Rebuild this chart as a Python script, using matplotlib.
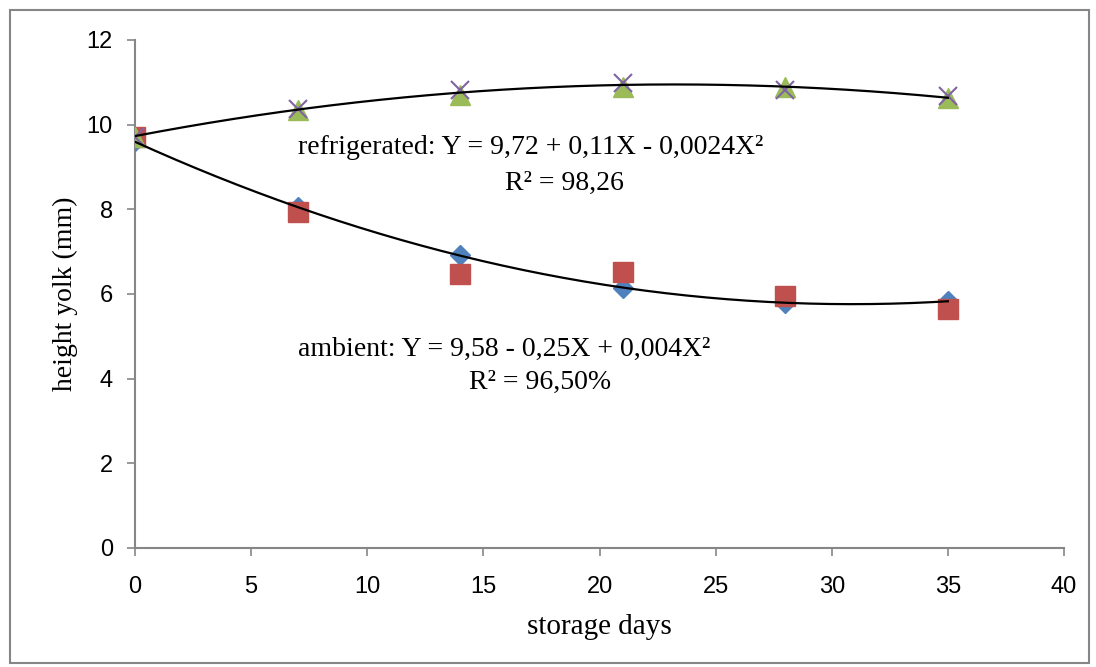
import numpy as np
import matplotlib
matplotlib.use("Agg")
import matplotlib.pyplot as plt
from matplotlib.patches import Rectangle

days = [0, 7, 14, 21, 28, 35]
ambient_a = [9.62, 8.06, 6.93, 6.15, 5.79, 5.84]      # blue diamonds
ambient_b = [9.72, 7.94, 6.48, 6.52, 5.96, 5.65]      # red squares
refrig_a = [9.72, 10.35, 10.71, 10.90, 10.90, 10.63]  # green triangles
refrig_b = [9.72, 10.38, 10.83, 10.99, 10.82, 10.68]  # purple crosses

eq_refrig = "refrigerated: Y = 9,72 + 0,11X - 0,0024X\u00b2"
r2_refrig = "R\u00b2 = 98,26"
eq_amb = "ambient: Y = 9,58 - 0,25X + 0,004X\u00b2"
r2_amb = "R\u00b2 = 96,50%"

xticks = [0, 5, 10, 15, 20, 25, 30, 35, 40]
yticks = [0, 2, 4, 6, 8, 10, 12]

tickfont = "Liberation Sans"
serif = "Liberation Serif"

fig = plt.figure(figsize=(10.96, 6.67), dpi=100)
fig.patches.append(Rectangle((10/1096, 4/667), 1079/1096, 653/667, transform=fig.transFigure,
                             fill=False, edgecolor="#868686", linewidth=1.5))
ax = fig.add_axes([135/1096, 119/667, 929/1096, 508/667])

ax.plot(days, ambient_a, linestyle="none", marker="D", markersize=10, color="#4F81BD", zorder=3)
ax.plot(days, ambient_b, linestyle="none", marker="s", markersize=14, color="#C0504D", zorder=4)
ax.plot(days, refrig_a, linestyle="none", marker="^", markersize=14, color="#9BBB59", zorder=5)
ax.plot(days, refrig_b, linestyle="none", marker="x", markersize=13, mew=1.5, color="#8064A2", zorder=6)

xs = np.linspace(0, 35, 200)
amb_mean = (np.array(ambient_a) + np.array(ambient_b)) / 2
ref_mean = (np.array(refrig_a) + np.array(refrig_b)) / 2
pa = np.polyfit(days, amb_mean, 2)
pr = np.polyfit(days, ref_mean, 2)
ax.plot(xs, np.polyval(pa, xs), color="black", lw=1.6, zorder=7)
ax.plot(xs, np.polyval(pr, xs), color="black", lw=1.6, zorder=7)

ax.set_xlim(0, 40)
ax.set_ylim(0, 12)
ax.set_xticks(xticks)
ax.set_yticks(yticks)
for s in ["top", "right"]:
    ax.spines[s].set_visible(False)
for s in ["left", "bottom"]:
    ax.spines[s].set_color("#868686")
    ax.spines[s].set_linewidth(1.5)
ax.tick_params(axis="both", direction="out", length=6, width=1.2, color="#868686",
               labelsize=17, labelcolor="black")
ax.tick_params(axis="x", pad=14)
ax.tick_params(axis="y", pad=10)
for lab in ax.get_xticklabels() + ax.get_yticklabels():
    lab.set_fontfamily(tickfont)
ax.set_xlabel("storage days", fontfamily=serif, fontsize=21, labelpad=12)
ax.set_ylabel("height yolk (mm)", fontfamily=serif, fontsize=20, labelpad=6)

ax.text(7.0, 9.45, eq_refrig, fontfamily=serif, fontsize=20, ha="left", va="center")
ax.text(18.5, 8.62, r2_refrig, fontfamily=serif, fontsize=20, ha="center", va="center")
ax.text(7.0, 4.70, eq_amb, fontfamily=serif, fontsize=20, ha="left", va="center")
ax.text(17.45, 3.90, r2_amb, fontfamily=serif, fontsize=20, ha="center", va="center")

fig.savefig("out.png", dpi=100)
